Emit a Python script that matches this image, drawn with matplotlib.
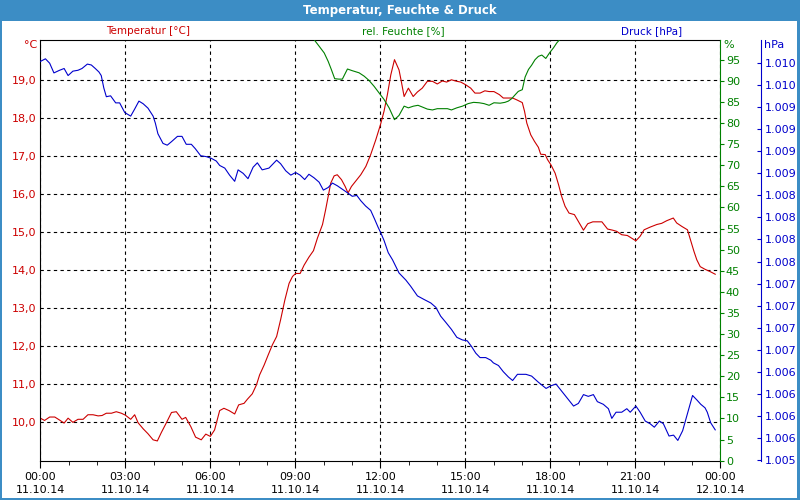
import matplotlib
matplotlib.use("Agg")
import matplotlib.pyplot as plt
from matplotlib.patches import Rectangle
from matplotlib.ticker import FixedLocator, FuncFormatter, MultipleLocator

# Temperatur [°C] -- time in hours since 00:00 11.10.14
temp_hours = [0.00, 0.15, 0.33, 0.51, 0.68, 0.84, 0.98, 1.15, 1.33, 1.51, 1.68, 1.86,
              2.04, 2.18, 2.33, 2.51, 2.68, 2.86, 3.00, 3.19, 3.33, 3.45, 3.63, 3.80,
              3.98, 4.13, 4.27, 4.45, 4.63, 4.80, 5.00, 5.13, 5.31, 5.48, 5.68, 5.84,
              6.00, 6.15, 6.33, 6.48, 6.66, 6.86, 7.00, 7.19, 7.31, 7.48, 7.63, 7.74,
              7.90, 8.04, 8.19, 8.34, 8.48, 8.63, 8.78, 8.90, 9.01, 9.17, 9.31, 9.48,
              9.64, 9.78, 9.96, 10.07, 10.17, 10.25, 10.37, 10.48, 10.63, 10.76, 10.86, 10.98,
              11.13, 11.31, 11.49, 11.66, 11.84, 12.01, 12.13, 12.25, 12.37, 12.50, 12.66, 12.74,
              12.84, 12.99, 13.16, 13.31, 13.48, 13.66, 13.84, 14.01, 14.19, 14.34, 14.51, 14.70,
              14.84, 15.01, 15.19, 15.34, 15.52, 15.69, 15.84, 16.01, 16.20, 16.34, 16.52, 16.67,
              16.82, 17.01, 17.09, 17.17, 17.31, 17.44, 17.58, 17.66, 17.82, 17.90, 18.03, 18.17,
              18.29, 18.40, 18.52, 18.66, 18.85, 18.99, 19.17, 19.32, 19.50, 19.82, 20.02, 20.20,
              20.34, 20.52, 20.72, 20.87, 21.02, 21.17, 21.31, 21.52, 21.76, 21.93, 22.11, 22.34,
              22.46, 22.64, 22.84, 22.93, 23.07, 23.17, 23.29, 23.46, 23.64, 23.82]
temp_values = [10.09, 10.03, 10.12, 10.12, 10.04, 9.96, 10.09, 9.98, 10.06, 10.06, 10.18, 10.18,
               10.15, 10.16, 10.22, 10.22, 10.26, 10.22, 10.17, 10.06, 10.18, 9.97, 9.81, 9.68,
               9.52, 9.49, 9.71, 9.97, 10.24, 10.26, 10.06, 10.11, 9.87, 9.59, 9.52, 9.67,
               9.61, 9.78, 10.29, 10.35, 10.29, 10.20, 10.44, 10.48, 10.59, 10.73, 10.97, 11.23,
               11.49, 11.75, 12.02, 12.24, 12.68, 13.20, 13.64, 13.82, 13.90, 13.90, 14.12, 14.33,
               14.50, 14.83, 15.19, 15.58, 15.97, 16.28, 16.47, 16.50, 16.37, 16.19, 16.02, 16.19,
               16.33, 16.50, 16.72, 17.03, 17.42, 17.83, 18.17, 18.61, 19.13, 19.53, 19.26, 18.96,
               18.56, 18.78, 18.56, 18.68, 18.78, 18.96, 18.96, 18.89, 18.97, 18.94, 19.00, 18.96,
               18.94, 18.87, 18.78, 18.65, 18.65, 18.71, 18.69, 18.69, 18.61, 18.52, 18.52, 18.52,
               18.47, 18.40, 18.17, 17.86, 17.55, 17.38, 17.22, 17.04, 17.03, 16.90, 16.75, 16.54,
               16.24, 15.93, 15.67, 15.49, 15.45, 15.27, 15.04, 15.21, 15.26, 15.26, 15.07, 15.04,
               15.01, 14.92, 14.90, 14.83, 14.76, 14.88, 15.05, 15.12, 15.19, 15.22, 15.29, 15.36,
               15.23, 15.14, 15.05, 14.83, 14.48, 14.26, 14.08, 14.01, 13.95, 13.88]

# rel. Feuchte [%] -- off the top of the chart before ~9:40 and after ~18:20
hum_hours = [9.50, 9.68, 9.84, 10.02, 10.16, 10.27, 10.39, 10.54, 10.66, 10.84, 11.01, 11.25,
             11.43, 11.60, 11.78, 11.96, 12.13, 12.31, 12.50, 12.66, 12.84, 12.99, 13.17, 13.33,
             13.48, 13.66, 13.84, 14.01, 14.19, 14.37, 14.51, 14.70, 14.90, 15.10, 15.29, 15.49,
             15.66, 15.84, 16.01, 16.23, 16.40, 16.52, 16.64, 16.76, 16.87, 17.01, 17.11, 17.23,
             17.34, 17.46, 17.58, 17.70, 17.84, 17.97, 18.11, 18.23, 18.31, 18.45]
hum_values = [103.0, 99.6, 98.2, 96.6, 94.6, 92.7, 90.5, 90.4, 90.4, 92.8, 92.4, 91.9,
              91.1, 90.1, 88.7, 87.1, 85.6, 83.6, 80.8, 81.8, 84.0, 83.6, 84.0, 84.2,
              83.8, 83.3, 83.1, 83.4, 83.4, 83.4, 83.1, 83.6, 84.0, 84.6, 84.9, 84.8,
              84.6, 84.2, 84.8, 84.7, 84.9, 85.2, 85.8, 86.7, 87.5, 87.9, 90.9, 92.7,
              93.7, 95.0, 95.8, 96.1, 95.3, 96.6, 97.8, 99.0, 99.6, 102.0]

# Druck [hPa]
press_hours = [0.00, 0.18, 0.33, 0.48, 0.68, 0.84, 0.98, 1.15, 1.33, 1.47, 1.66, 1.80,
               1.94, 2.07, 2.15, 2.24, 2.33, 2.48, 2.66, 2.80, 2.98, 3.19, 3.33, 3.48,
               3.63, 3.80, 3.98, 4.06, 4.15, 4.33, 4.48, 4.63, 4.84, 5.00, 5.15, 5.33,
               5.47, 5.66, 5.86, 6.04, 6.21, 6.33, 6.51, 6.68, 6.86, 6.98, 7.16, 7.33,
               7.51, 7.66, 7.83, 8.07, 8.34, 8.48, 8.66, 8.84, 9.01, 9.17, 9.33, 9.48,
               9.66, 9.84, 9.99, 10.16, 10.31, 10.48, 10.66, 10.84, 11.01, 11.17, 11.31, 11.48,
               11.66, 11.80, 11.92, 12.01, 12.13, 12.28, 12.43, 12.66, 12.90, 13.07, 13.31, 13.54,
               13.78, 13.96, 14.13, 14.31, 14.51, 14.70, 14.90, 15.07, 15.21, 15.37, 15.52, 15.72,
               15.90, 15.99, 16.17, 16.34, 16.52, 16.67, 16.84, 17.14, 17.34, 17.58, 17.85, 18.02,
               18.20, 18.40, 18.58, 18.82, 18.99, 19.17, 19.34, 19.52, 19.66, 19.87, 20.05, 20.17,
               20.32, 20.52, 20.70, 20.82, 21.02, 21.17, 21.35, 21.52, 21.67, 21.85, 21.99, 22.19,
               22.35, 22.50, 22.67, 22.82, 23.02, 23.17, 23.31, 23.46, 23.54, 23.66, 23.82]
press_values = [1009.82, 1009.85, 1009.80, 1009.69, 1009.72, 1009.74, 1009.66, 1009.71, 1009.72, 1009.74, 1009.79, 1009.78,
                1009.74, 1009.70, 1009.66, 1009.52, 1009.42, 1009.43, 1009.35, 1009.35, 1009.24, 1009.20, 1009.28, 1009.37,
                1009.34, 1009.29, 1009.20, 1009.12, 1009.00, 1008.89, 1008.87, 1008.91, 1008.97, 1008.97, 1008.88, 1008.88,
                1008.83, 1008.75, 1008.74, 1008.72, 1008.69, 1008.64, 1008.61, 1008.53, 1008.46, 1008.59, 1008.55, 1008.49,
                1008.62, 1008.67, 1008.59, 1008.61, 1008.70, 1008.66, 1008.58, 1008.53, 1008.56, 1008.53, 1008.48, 1008.54,
                1008.50, 1008.45, 1008.36, 1008.39, 1008.44, 1008.41, 1008.37, 1008.33, 1008.29, 1008.30, 1008.24, 1008.18,
                1008.13, 1008.03, 1007.94, 1007.88, 1007.79, 1007.65, 1007.57, 1007.42, 1007.34, 1007.27, 1007.16, 1007.12,
                1007.08, 1007.03, 1006.93, 1006.86, 1006.78, 1006.69, 1006.66, 1006.65, 1006.59, 1006.51, 1006.46, 1006.46,
                1006.43, 1006.40, 1006.37, 1006.30, 1006.24, 1006.20, 1006.27, 1006.27, 1006.25, 1006.18, 1006.11, 1006.14,
                1006.16, 1006.08, 1006.01, 1005.91, 1005.94, 1006.04, 1006.02, 1006.04, 1005.96, 1005.93, 1005.88, 1005.77,
                1005.84, 1005.84, 1005.88, 1005.84, 1005.91, 1005.84, 1005.74, 1005.71, 1005.67, 1005.74, 1005.71, 1005.57,
                1005.58, 1005.52, 1005.63, 1005.80, 1006.03, 1005.98, 1005.93, 1005.89, 1005.84, 1005.72, 1005.64]

xtick_hours = [0, 3, 6, 9, 12, 15, 18, 21, 24]
xtick_labels = ["00:00\n11.10.14", "03:00\n11.10.14", "06:00\n11.10.14", "09:00\n11.10.14",
                "12:00\n11.10.14", "15:00\n11.10.14", "18:00\n11.10.14", "21:00\n11.10.14",
                "00:00\n12.10.14"]
temp_ticks = [10, 11, 12, 13, 14, 15, 16, 17, 18, 19]
hum_ticks = list(range(0, 100, 5))
press_ticks = [1005.3 + 0.25 * k for k in range(19)]

RED = "#cc0000"
GREEN = "#008000"
BLUE = "#0000cc"
FRAME = "#3c8dc5"

plt.rcParams["font.family"] = ["DejaVu Sans"]
plt.rcParams["font.size"] = 8

fig = plt.figure(figsize=(8, 5), dpi=100)
fig.patch.set_facecolor("white")

# window frame + title bar
fig.patches.append(Rectangle((0, 0.958), 1, 0.042, transform=fig.transFigure,
                             facecolor=FRAME, edgecolor="none", zorder=0))
for rect in [(0, 0, 0.0025, 1), (0.9962, 0, 0.0038, 1), (0, 0, 1, 0.005)]:
    fig.patches.append(Rectangle(rect[:2], rect[2], rect[3], transform=fig.transFigure,
                                 facecolor=FRAME, edgecolor="none", zorder=0))
fig.text(0.5, 0.979, "Temperatur, Feuchte & Druck", color="white", fontweight="bold",
         fontsize=8.5, ha="center", va="center")

ax = fig.add_axes([0.0504, 0.0786, 0.85, 0.8408])
ax_h = ax.twinx()
ax_p = ax.twinx()
ax_p.spines["right"].set_position(("axes", 1.06))

# temperature
ax.plot(temp_hours, temp_values, color=RED, lw=0.8)
ax.set_xlim(0, 24)
ax.set_ylim(8.97, 20.04)
ax.xaxis.set_major_locator(FixedLocator(xtick_hours))
ax.set_xticklabels(xtick_labels, linespacing=1.45)
ax.xaxis.set_minor_locator(MultipleLocator(1))
ax.tick_params(axis="x", which="major", length=5, direction="out", pad=3)
ax.tick_params(axis="x", which="minor", length=3, direction="out")
ax.yaxis.set_major_locator(FixedLocator(temp_ticks))
ax.yaxis.set_major_formatter(FuncFormatter(lambda v, p: f"{v:.1f}".replace(".", ",")))
ax.tick_params(axis="y", length=0, pad=3, labelcolor=RED)
ax.grid(True, color="black", linestyle=(0, (3, 3)), linewidth=0.8)
ax.spines["right"].set_visible(False)

# humidity
ax_h.plot(hum_hours, hum_values, color=GREEN, lw=0.8)
ax_h.set_ylim(0, 99.6)
ax_h.yaxis.set_major_locator(FixedLocator(hum_ticks))
ax_h.tick_params(axis="y", length=3, direction="out", pad=1, color=GREEN, labelcolor=GREEN)
for side in ["left", "top", "bottom"]:
    ax_h.spines[side].set_visible(False)
ax_h.spines["right"].set_color(GREEN)

# pressure
ax_p.plot(press_hours, press_values, color=BLUE, lw=0.8)
ax_p.set_ylim(1005.29, 1010.06)
ax_p.yaxis.set_major_locator(FixedLocator(press_ticks))
ax_p.yaxis.set_major_formatter(FuncFormatter(lambda v, p: f"{round(v):,}".replace(",", ".")))
ax_p.tick_params(axis="y", length=3, direction="in", pad=3, color=BLUE, labelcolor=BLUE)
for side in ["left", "top", "bottom"]:
    ax_p.spines[side].set_visible(False)
ax_p.spines["right"].set_color(BLUE)

# axis headers
fig.text(148 / 800, 1 - 31 / 500, "Temperatur [°C]", color=RED, ha="center", va="center", fontsize=7.5)
fig.text(403 / 800, 1 - 31 / 500, "rel. Feuchte [%]", color=GREEN, ha="center", va="center", fontsize=7.5)
fig.text(652 / 800, 1 - 31 / 500, "Druck [hPa]", color=BLUE, ha="center", va="center", fontsize=7.5)
fig.text(37 / 800, 1 - 45 / 500, "°C", color=RED, ha="right", va="center")
fig.text(723 / 800, 1 - 45 / 500, "%", color=GREEN, ha="left", va="center")
fig.text(764 / 800, 1 - 45 / 500, "hPa", color=BLUE, ha="left", va="center")

fig.savefig("out.png", dpi=100)
